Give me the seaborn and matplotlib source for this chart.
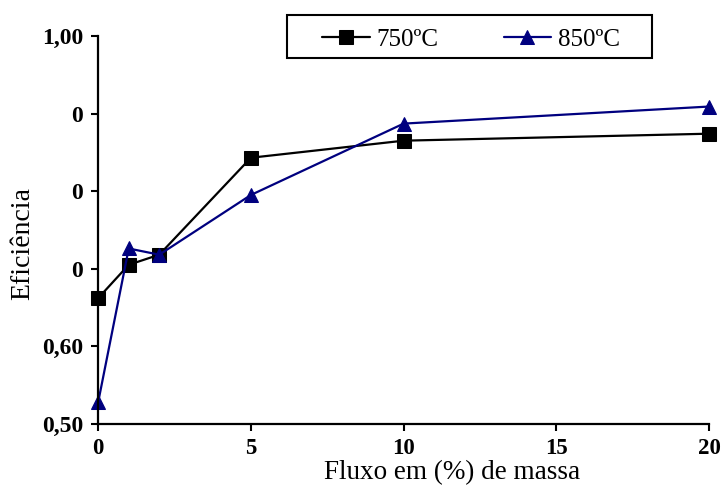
import matplotlib
matplotlib.use("Agg")
import matplotlib.pyplot as plt
from matplotlib.patches import Rectangle
import seaborn as sns
import pandas as pd

# values
fluxo = [0, 1, 2, 5, 10, 20]
ef_750 = [0.662, 0.705, 0.718, 0.843, 0.865, 0.874]
ef_850 = [0.528, 0.726, 0.718, 0.795, 0.887, 0.909]
y_ticks = [0.5, 0.6, 0.7, 0.8, 0.9, 1.0]
y_ticklabels = ["0,50", "0,60", "0", "0", "0", "1,00"]
x_ticks = [0, 5, 10, 15, 20]

df_750 = pd.DataFrame({"fluxo": fluxo, "ef": ef_750})
df_850 = pd.DataFrame({"fluxo": fluxo, "ef": ef_850})

sns.set_style("ticks")
plt.rcParams["font.family"] = ["Liberation Serif", "DejaVu Serif"]
plt.rcParams["text.color"] = "black"
plt.rcParams["axes.labelcolor"] = "black"

fig = plt.figure(figsize=(7.22, 4.86), dpi=100)
ax = fig.add_axes([0.136, 0.128, 0.846, 0.798])

sns.lineplot(data=df_750, x="fluxo", y="ef", ax=ax, color="black", lw=1.6,
             marker="s", markersize=10, markeredgecolor="black",
             label="750ºC")
sns.lineplot(data=df_850, x="fluxo", y="ef", ax=ax, color="#00007f", lw=1.6,
             marker="^", markersize=10, markeredgecolor="#00007f",
             label="850ºC")

ax.set_xlim(0, 20)
ax.set_ylim(0.5, 1.0)
ax.set_xticks(x_ticks)
ax.set_xticklabels([str(t) for t in x_ticks], fontsize=16.5, fontweight="bold")
ax.set_yticks(y_ticks)
ax.set_yticklabels(y_ticklabels, fontsize=17, fontweight="bold")
ax.tick_params(direction="out", length=5, width=1.5, colors="black")
ax.tick_params(axis="y", pad=6)
ax.tick_params(axis="x", pad=5)
for s in ["left", "bottom"]:
    ax.spines[s].set_linewidth(1.6)
    ax.spines[s].set_color("black")
ax.spines["top"].set_visible(False)
ax.spines["right"].set_visible(False)
for line in ax.lines:
    line.set_clip_on(False)

ax.set_xlabel("Fluxo em (%) de massa", fontsize=19.5)
ax.set_ylabel("Eficiência", fontsize=20)
ax.xaxis.set_label_coords(0.579, -0.093)
ax.yaxis.set_label_coords(-0.103, 0.466)

ax.get_legend().remove()
handles, labels = ax.get_legend_handles_labels()
leg = fig.legend(handles, labels, ncol=2, loc="center left",
                 bbox_to_anchor=(322 / 722, 1 - 40 / 486),
                 frameon=False, fontsize=18, handlelength=1.9,
                 borderpad=0, borderaxespad=0, handletextpad=0.28,
                 columnspacing=2.6)
# legend box drawn on its own, square corners
fig.patches.append(Rectangle((287 / 722, 1 - 58 / 486), 365 / 722, 43 / 486,
                             transform=fig.transFigure, fill=False,
                             edgecolor="black", lw=1.5))

fig.savefig("out.png", dpi=100)
